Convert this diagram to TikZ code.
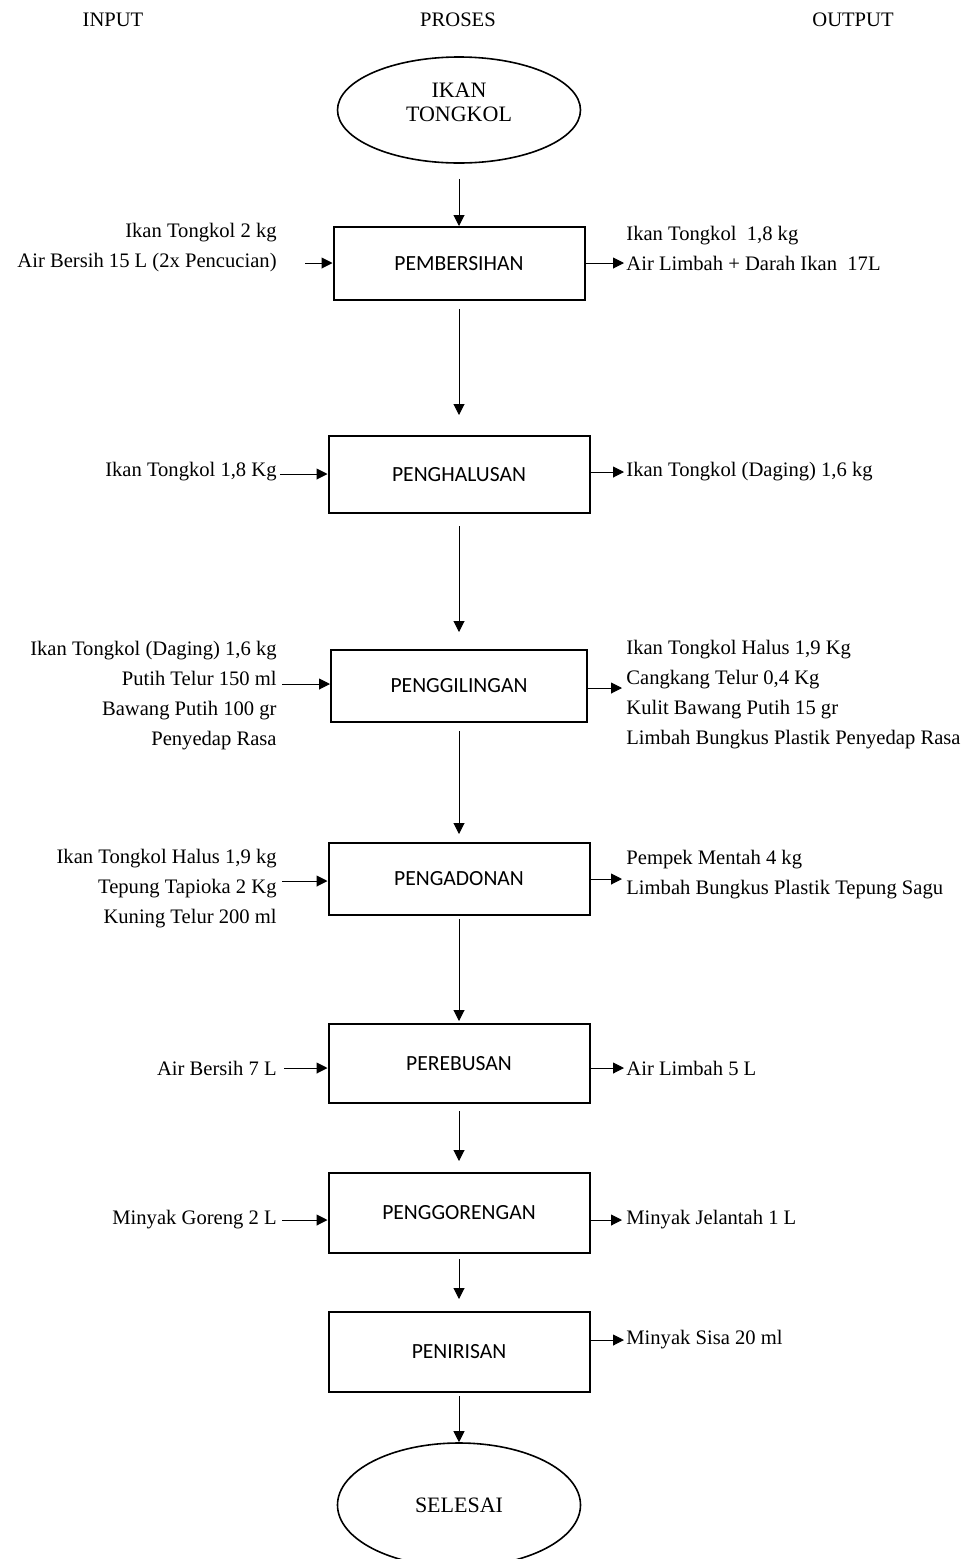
\documentclass[tikz,border=0pt]{standalone}
\usepackage{fontspec}
\setmainfont{Liberation Serif}
\newfontfamily\kotakfont{Carlito}
\usetikzlibrary{shapes.geometric,arrows.meta}
\tikzset{
    x=0.5pt, y=-0.5pt, % one pixel of the scanned chart is half a point
    }

\begin{document}
\begin{tikzpicture}[
prosesnode/.style={rectangle, draw=black, line width=1pt, minimum width=130.5pt, minimum height=38pt, inner sep=0pt, font=\kotakfont\fontsize{10.8}{13}\selectfont},
ujungnode/.style={ellipse, draw=black, line width=0.8pt, minimum width=121.5pt, inner sep=0pt, align=center, font=\fontsize{11}{12}\selectfont},
teksnode/.style={inner sep=0pt, font=\fontsize{10.3}{15}\selectfont},
panah/.style={line width=0.5pt, -{Triangle[length=5.5pt,width=5.5pt]}},
]
\useasboundingbox (0,0) rectangle (967,1559);

\node[teksnode] (judulin) at (113,20) {INPUT};
\node[teksnode] (judulproses) at (458,20) {PROSES};
\node[teksnode] (judulout) at (853,20) {OUTPUT};

\node[ujungnode, minimum height=53pt, text depth=8pt] (mulai) at (459,110) {IKAN\\TONGKOL};
\node[prosesnode, minimum width=125.5pt, minimum height=36.5pt] (bersih) at (459,263.5) {PEMBERSIHAN};
\node[prosesnode, minimum height=38.5pt] (halus) at (459,474.5) {PENGHALUSAN};
\node[prosesnode, minimum width=128pt, minimum height=36pt] (giling) at (459,686) {PENGGILINGAN};
\node[prosesnode, minimum height=36pt] (adon) at (459,879) {PENGADONAN};
\node[prosesnode, minimum height=39.5pt] (rebus) at (459,1063.5) {PEREBUSAN};
\node[prosesnode, minimum height=40pt] (goreng) at (459,1213) {PENGGORENGAN};
\node[prosesnode, minimum height=40pt] (tiris) at (459,1352) {PENIRISAN};
\node[ujungnode, minimum height=62pt] (selesai) at (459,1505) {SELESAI};

\draw[panah, shorten <=7.5pt] (mulai.south) -- (bersih.north);
\draw[panah, shorten <=4pt, shorten >=10pt] (bersih.south) -- (halus.north);
\draw[panah, shorten <=6pt, shorten >=8.5pt] (halus.south) -- (giling.north);
\draw[panah, shorten <=4pt, shorten >=4pt] (giling.south) -- (adon.north);
\draw[panah, shorten <=1.5pt, shorten >=1pt] (adon.south) -- (rebus.north);
\draw[panah, shorten <=3.5pt, shorten >=5.5pt] (rebus.south) -- (goreng.north);
\draw[panah, shorten <=2.5pt, shorten >=6pt] (goreng.south) -- (tiris.north);
\draw[panah, shorten <=1.5pt] (tiris.south) -- (selesai.north);

% masukan
\node[teksnode, anchor=east, align=right] (in1) at (277,248) {Ikan Tongkol 2 kg\\Air Bersih 15 L (2x Pencucian)};
\node[teksnode, anchor=east] (in2) at (277,472) {Ikan Tongkol 1,8 Kg};
\node[teksnode, anchor=east, align=right] (in3) at (277,696) {Ikan Tongkol (Daging) 1,6 kg\\Putih Telur 150 ml\\Bawang Putih 100 gr\\Penyedap Rasa};
\node[teksnode, anchor=east, align=right] (in4) at (277,889) {Ikan Tongkol Halus 1,9 kg\\Tepung Tapioka 2 Kg\\Kuning Telur 200 ml};
\node[teksnode, anchor=east] (in5) at (277,1068) {Air Bersih 7 L};
\node[teksnode, anchor=east] (in6) at (277,1220) {Minyak Goreng 2 L};

\coordinate (a1) at (305,263);
\coordinate (a2) at (280,474);
\coordinate (a3) at (282,684);
\coordinate (a4) at (282,881);
\coordinate (a5) at (284,1068);
\coordinate (a6) at (282,1220);
\foreach \a/\b in {a1/bersih, a2/halus, a3/giling, a4/adon, a5/rebus, a6/goreng}
    \draw[panah] (\a) -- (\a -| \b.west);

% keluaran
\node[teksnode, anchor=west, align=left] (out1) at (626,248) {Ikan Tongkol\ \ 1,8 kg\\Air Limbah + Darah Ikan\ \ 17L};
\node[teksnode, anchor=west] (out2) at (626,472) {Ikan Tongkol (Daging) 1,6 kg};
\node[teksnode, anchor=west, align=left] (out3) at (626,695) {Ikan Tongkol Halus 1,9 Kg\\Cangkang Telur 0,4 Kg\\Kulit Bawang Putih 15 gr\\Limbah Bungkus Plastik Penyedap Rasa};
\node[teksnode, anchor=west, align=left] (out4) at (626,875) {Pempek Mentah 4 kg\\Limbah Bungkus Plastik Tepung Sagu};
\node[teksnode, anchor=west] (out5) at (626,1068) {Air Limbah 5 L};
\node[teksnode, anchor=west] (out6) at (626,1220) {Minyak Jelantah 1 L};
\node[teksnode, anchor=west] (out7) at (626,1340) {Minyak Sisa 20 ml};

\coordinate (b1) at (624,263);
\coordinate (b2) at (624,472);
\coordinate (b3) at (622,688);
\coordinate (b4) at (622,879);
\coordinate (b5) at (624,1068);
\coordinate (b6) at (622,1220);
\coordinate (b7) at (624,1340);
\foreach \a/\b in {bersih/b1, halus/b2, giling/b3, adon/b4, rebus/b5, goreng/b6, tiris/b7}
    \draw[panah] (\a.east |- \b) -- (\b);
\end{tikzpicture}
\end{document}
